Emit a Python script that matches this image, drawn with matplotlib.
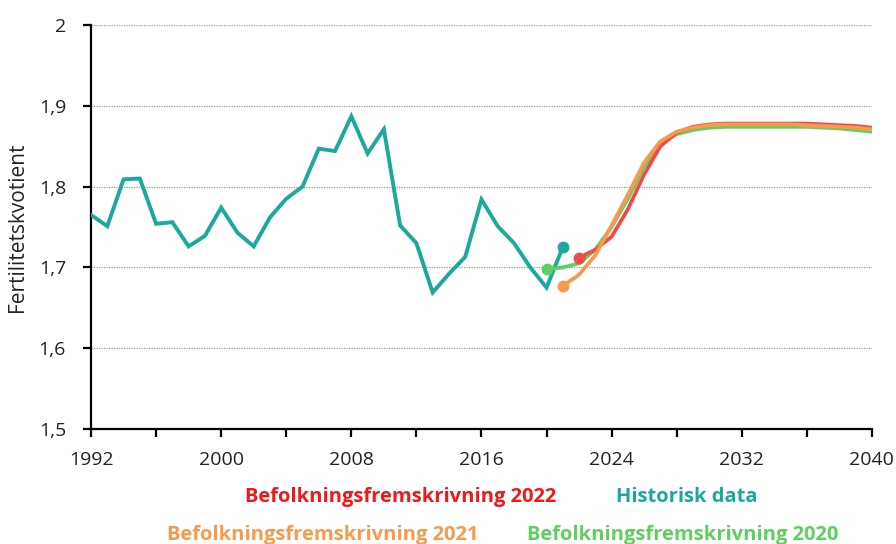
import matplotlib.pyplot as plt
import numpy as np

# historiske data
hist_years = list(range(1992, 2022))
hist_vals = [1.765, 1.751, 1.809, 1.810, 1.754, 1.756, 1.726, 1.739, 1.774, 1.743,
             1.726, 1.762, 1.785, 1.800, 1.847, 1.844, 1.887, 1.841, 1.871, 1.752,
             1.730, 1.669, 1.692, 1.713, 1.784, 1.751, 1.730, 1.700, 1.675, 1.725]

# fremskrivninger
bf20_years = list(range(2020, 2041))
bf20_vals = [1.698, 1.700, 1.705, 1.722, 1.750, 1.785, 1.825, 1.852, 1.865, 1.870,
             1.873, 1.874, 1.874, 1.874, 1.874, 1.874, 1.874, 1.873, 1.872, 1.870, 1.868]

bf21_years = list(range(2021, 2041))
bf21_vals = [1.677, 1.691, 1.715, 1.752, 1.790, 1.830, 1.856, 1.868, 1.873, 1.876,
             1.877, 1.877, 1.877, 1.877, 1.877, 1.876, 1.875, 1.874, 1.873, 1.871]

bf22_years = list(range(2022, 2041))
bf22_vals = [1.712, 1.722, 1.738, 1.772, 1.815, 1.850, 1.867, 1.874, 1.877, 1.878,
             1.878, 1.878, 1.878, 1.878, 1.878, 1.877, 1.876, 1.875, 1.873]

TEAL = '#1aa99b'
RED = '#f04a4a'
ORANGE = '#f89a4e'
GREEN = '#5fcf60'

plt.rcParams['font.family'] = ['Open Sans', 'DejaVu Sans']

fig = plt.figure(figsize=(8.96, 5.44), dpi=100)
ax = fig.add_axes([0.1016, 0.2114, 0.8715, 0.7426])

ax.plot(hist_years, hist_vals, color=TEAL, lw=2.8, marker='o', ms=7.5, markevery=[-1],
        solid_joinstyle='miter', zorder=3)
ax.plot(bf20_years, bf20_vals, color=GREEN, lw=2.7, marker='o', ms=7.5, markevery=[0], zorder=4)
ax.plot(bf22_years, bf22_vals, color=RED, lw=2.7, marker='o', ms=7.5, markevery=[0], zorder=5)
ax.plot(bf21_years, bf21_vals, color=ORANGE, lw=2.7, marker='o', ms=7.5, markevery=[0], zorder=6)

ax.set_xlim(1992, 2040)
ax.set_ylim(1.5, 2.0)
ax.set_xticks(np.arange(1992, 2041, 8))
ax.set_xticks(np.arange(1992, 2041, 4), minor=True)
ax.set_yticks(np.arange(1.5, 2.01, 0.1))
ax.set_yticklabels(['1,5', '1,6', '1,7', '1,8', '1,9', '2'])

ax.grid(axis='y', color='#999999', ls=(0, (1, 1)), lw=0.9)
ax.set_axisbelow(True)
for s in ['top', 'right']:
    ax.spines[s].set_visible(False)
for s in ['left', 'bottom']:
    ax.spines[s].set_linewidth(1.6)
    ax.spines[s].set_color('black')
ax.tick_params(axis='both', which='both', direction='out', length=6, width=1.6,
               labelsize=14, color='black', labelcolor='#222222')
ax.tick_params(axis='x', pad=10)
ax.tick_params(axis='y', pad=12)
ax.set_ylabel('Fertilitetskvotient', fontsize=15, labelpad=8, color='#222222')

# legende som farvet tekst
fig.text(0.4475, 0.0864, 'Befolkningsfremskrivning 2022', color='#f01818',
         fontsize=14.5, fontweight='bold', ha='center', va='center')
fig.text(0.7667, 0.0864, 'Historisk data', color=TEAL,
         fontsize=14.5, fontweight='bold', ha='center', va='center')
fig.text(0.3597, 0.0165, 'Befolkningsfremskrivning 2021', color=ORANGE,
         fontsize=14.5, fontweight='bold', ha='center', va='center')
fig.text(0.7617, 0.0165, 'Befolkningsfremskrivning 2020', color=GREEN,
         fontsize=14.5, fontweight='bold', ha='center', va='center')

fig.savefig('out.png', dpi=100)
